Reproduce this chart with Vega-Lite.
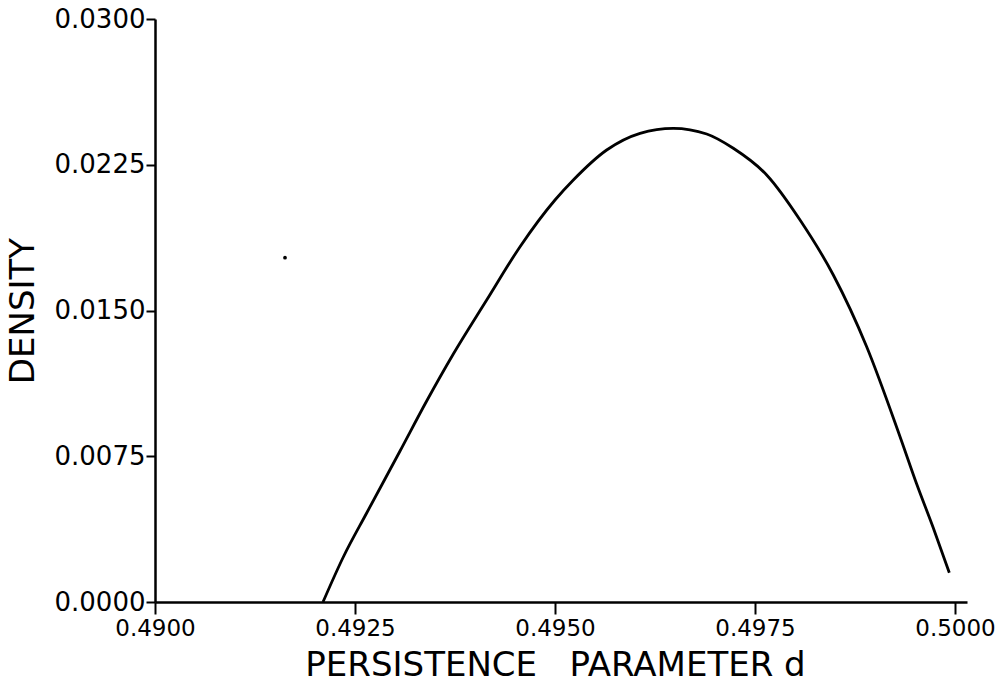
{
  "$schema": "https://vega.github.io/schema/vega-lite/v6.json",
  "width": 812,
  "height": 583,
  "autosize": "none",
  "padding": {"left": 155, "top": 19, "right": 30, "bottom": 85},
  "background": "white",
  "config": {
    "view": {"stroke": null},
    "font": "DejaVu Sans",
    "axis": {
      "grid": false,
      "domainColor": "black",
      "domainWidth": 2.5,
      "tickColor": "black",
      "tickWidth": 2,
      "labelColor": "black",
      "titleColor": "black",
      "labelFont": "DejaVu Sans",
      "titleFont": "DejaVu Sans",
      "titleFontSize": 34,
      "titleFontWeight": "normal",
      "labelFlush": false,
      "labelOverlap": false,
      "format": ".4f"
    }
  },
  "datasets": {
    "curve": [
      {"d": 0.49210, "density": 0.0000},
      {"d": 0.492354, "density": 0.002316},
      {"d": 0.492646, "density": 0.004580},
      {"d": 0.493063, "density": 0.007770},
      {"d": 0.493396, "density": 0.010343},
      {"d": 0.493729, "density": 0.012762},
      {"d": 0.494146, "density": 0.015540},
      {"d": 0.494563, "density": 0.018283},
      {"d": 0.495000, "density": 0.020686},
      {"d": 0.495229, "density": 0.021715},
      {"d": 0.495646, "density": 0.023259},
      {"d": 0.496063, "density": 0.024118},
      {"d": 0.496479, "density": 0.024376},
      {"d": 0.496896, "density": 0.024082},
      {"d": 0.497229, "density": 0.023347},
      {"d": 0.497646, "density": 0.021973},
      {"d": 0.498063, "density": 0.019657},
      {"d": 0.498479, "density": 0.016827},
      {"d": 0.498896, "density": 0.013137},
      {"d": 0.499313, "density": 0.008506},
      {"d": 0.499521, "density": 0.006072},
      {"d": 0.499729, "density": 0.003808},
      {"d": 0.499929, "density": 0.001508}
    ],
    "speck": [
      {"d": 0.491625, "density": 0.017717}
    ]
  },
  "layer": [
    {
      "data": {"name": "curve"},
      "mark": {"type": "line", "color": "black", "strokeWidth": 2.8, "interpolate": "monotone"},
      "encoding": {
        "x": {
          "field": "d",
          "type": "quantitative",
          "scale": {"domain": [0.49, 0.50015], "nice": false, "zero": false},
          "axis": {
            "values": [0.49, 0.4925, 0.495, 0.4975, 0.5],
            "title": "PERSISTENCE\u00a0\u00a0\u00a0PARAMETER\u00a0d",
            "labelFontSize": 23,
            "tickSize": 12,
            "labelPadding": 3,
            "titlePadding": 8,
            "titleAnchor": "middle",
            "titleX": 400
          }
        },
        "y": {
          "field": "density",
          "type": "quantitative",
          "scale": {"domain": [0, 0.03], "nice": false},
          "axis": {
            "values": [0, 0.0075, 0.015, 0.0225, 0.03],
            "title": "DENSITY",
            "labelFontSize": 26,
            "tickSize": 9,
            "labelPadding": 1,
            "titlePadding": 14
          }
        }
      }
    },
    {
      "data": {"name": "speck"},
      "mark": {"type": "point", "filled": true, "color": "black", "size": 14, "opacity": 1},
      "encoding": {
        "x": {"field": "d", "type": "quantitative"},
        "y": {"field": "density", "type": "quantitative"}
      }
    }
  ]
}
